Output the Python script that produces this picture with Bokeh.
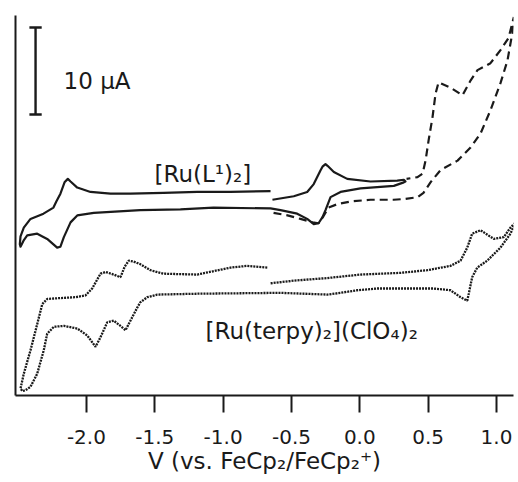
from bokeh.plotting import figure
from bokeh.models import Range1d, FixedTicker, NumeralTickFormatter
from bokeh.core.properties import value
from bokeh.embed import file_html
from bokeh.resources import INLINE

# ---- data: potential (V vs FeCp2/FeCp2+) and current (uA, arbitrary offset) ----
solid_v = [-0.653, -0.946, -1.189, -1.436, -1.678, -1.824, -1.970, -2.067, -2.116, -2.136,
           -2.160, -2.190, -2.220, -2.241, -2.314, -2.409, -2.458, -2.482, -2.487, -2.482,
           -2.460, -2.433, -2.360, -2.287, -2.214, -2.190, -2.165, -2.116, -2.067, -1.946,
           -1.606, -1.312, -1.070, -0.653, -0.580, -0.458, -0.385, -0.337, -0.302, -0.273,
           -0.251, -0.214, -0.141, 0.005, 0.249, 0.322, 0.334, 0.322, 0.274, 0.078,
           -0.092, -0.190, -0.236, -0.251, -0.273, -0.287, -0.337, -0.385, -0.483, -0.639]
solid_i = [23.5, 23.4, 23.4, 23.3, 23.2, 23.2, 23.4, 23.9, 24.6, 24.9,
           24.5, 23.2, 22.3, 21.6, 20.9, 20.3, 19.3, 18.3, 17.4, 17.1,
           17.8, 18.4, 18.6, 18.0, 17.0, 17.1, 18.2, 19.9, 20.7, 21.0,
           21.3, 21.4, 21.6, 21.5, 21.3, 20.9, 20.3, 19.7, 19.8, 20.5,
           21.3, 22.8, 23.4, 23.8, 24.1, 24.5, 24.6, 24.8, 24.7, 24.6,
           24.9, 25.7, 26.4, 26.6, 26.3, 25.9, 24.3, 23.4, 22.9, 22.5]

dashed_v = [-0.631, -0.529, -0.434, -0.346, -0.302, -0.266, -0.229, -0.163, -0.068, 0.078,
            0.247, 0.334, 0.422, 0.466, 0.517, 0.590, 0.715, 0.810, 0.883, 0.956,
            1.029, 1.080, 1.115, 1.127, 1.088, 1.029, 0.956, 0.861, 0.810, 0.751,
            0.663, 0.576, 0.554, 0.532, 0.503, 0.481, 0.459, 0.422, 0.342]
dashed_i = [21.0, 20.7, 20.3, 19.9, 19.8, 20.6, 21.6, 22.0, 22.3, 22.5,
            22.5, 22.6, 22.8, 23.3, 24.5, 25.9, 27.0, 28.5, 30.1, 32.8,
            35.9, 38.5, 41.6, 43.5, 41.1, 39.7, 38.2, 37.4, 36.2, 34.5,
            35.4, 36.0, 34.7, 32.0, 29.3, 27.0, 25.5, 25.1, 24.9]

dotted_v = [-0.677, -0.824, -0.946, -1.068, -1.189, -1.434, -1.531, -1.606, -1.656, -1.690,
            -1.720, -1.751, -1.800, -1.860, -1.897, -1.958, -2.007, -2.080, -2.190, -2.287,
            -2.323, -2.360, -2.409, -2.458, -2.482, -2.468, -2.446, -2.409, -2.360, -2.312,
            -2.287, -2.238, -2.165, -2.067, -1.994, -1.933, -1.897, -1.848, -1.800, -1.751,
            -1.714, -1.678, -1.628, -1.606, -1.555, -1.482, -1.189, -0.580, -0.238, -0.141,
            -0.019, 0.127, 0.541, 0.663, 0.737, 0.786, 0.797, 0.822, 0.859, 0.932,
            1.029, 1.102, 1.139, 1.102, 1.053, 0.980, 0.883, 0.822, 0.786, 0.737,
            0.663, 0.493, 0.298, 0.005, -0.238, -0.483, -0.653]
dotted_i = [14.7, 14.9, 14.7, 14.3, 13.9, 14.0, 14.4, 15.1, 15.4, 15.5,
            14.8, 13.6, 13.9, 14.2, 14.0, 12.3, 11.5, 11.3, 11.2, 11.1,
            10.5, 8.2, 5.2, 2.5, 0.8, 0.5, 0.6, 1.0, 2.5, 5.2,
            7.1, 7.9, 8.0, 7.7, 6.9, 5.6, 6.7, 8.4, 8.6, 8.0,
            7.5, 8.6, 10.1, 10.7, 11.3, 11.6, 11.7, 11.8, 11.6, 11.8,
            12.1, 12.3, 12.3, 12.1, 11.3, 10.9, 11.7, 13.6, 14.7, 15.5,
            17.0, 18.6, 19.9, 19.3, 18.2, 18.0, 19.0, 18.6, 17.0, 15.5,
            14.9, 14.4, 14.1, 13.9, 13.5, 13.2, 12.9]

x_ticks = [-2.0, -1.5, -1.0, -0.5, 0.0, 0.5, 1.0]
x_label = "V (vs. FeCp₂/FeCp₂⁺)"

label_texts = ["10 μA", "[Ru(L¹)₂]", "[Ru(terpy)₂](ClO₄)₂"]
label_v = [-2.167, -1.502, -1.129]
label_i = [36.1, 25.5, 7.4]

scale_v = -2.372
scale_i0 = 32.3
scale_len = 10.0
cap_half = 0.045

INK = "#1a1a1a"
FONT = "DejaVu Sans"

p = figure(width=516, height=480, output_backend="svg", toolbar_location=None,
           x_range=Range1d(-2.5187, 1.1243), y_range=Range1d(0, 43.68),
           min_border_left=15, min_border_right=3, min_border_top=15, min_border_bottom=85)
p.grid.visible = False
p.outline_line_color = None
p.background_fill_color = "white"
p.border_fill_color = "white"

xa = p.xaxis[0]
xa.ticker = FixedTicker(ticks=x_ticks)
xa.formatter = NumeralTickFormatter(format="0.0")
xa.axis_line_width = 2
xa.axis_line_color = INK
xa.major_tick_line_width = 2
xa.major_tick_line_color = INK
xa.major_tick_out = 17
xa.major_tick_in = 0
xa.minor_tick_out = 0
xa.minor_tick_in = 0
xa.major_label_text_font = FONT
xa.major_label_text_font_size = "20px"
xa.major_label_text_color = INK
xa.major_label_standoff = 17
xa.axis_label = x_label
xa.axis_label_text_font = FONT
xa.axis_label_text_font_size = "23px"
xa.axis_label_text_font_style = "normal"
xa.axis_label_text_color = INK
xa.axis_label_standoff = 1

ya = p.yaxis[0]
ya.ticker = FixedTicker(ticks=[])
ya.major_label_text_font_size = "0px"
ya.major_label_standoff = 0
ya.major_tick_out = 0
ya.major_tick_in = 0
ya.minor_tick_out = 0
ya.minor_tick_in = 0
ya.axis_line_width = 2
ya.axis_line_color = INK

p.line(solid_v, solid_i, line_color=INK, line_width=2.2, line_join="round")
p.line(dashed_v, dashed_i, line_color=INK, line_width=2.2, line_dash="8 5")
p.line(dotted_v, dotted_i, line_color=INK, line_width=2.3, line_dash="2 1")

# scale bar (10 uA)
p.segment(x0=[scale_v], y0=[scale_i0], x1=[scale_v], y1=[scale_i0 + scale_len],
          line_color=INK, line_width=2.4)
p.segment(x0=[scale_v - cap_half, scale_v - cap_half], y0=[scale_i0, scale_i0 + scale_len],
          x1=[scale_v + cap_half, scale_v + cap_half], y1=[scale_i0, scale_i0 + scale_len],
          line_color=INK, line_width=2.4)

p.text(x=label_v[:1], y=label_i[:1], text=label_texts[:1], text_font=value(FONT),
       text_font_size=value("23px"), text_color=INK, text_align="left",
       text_baseline="alphabetic")
p.text(x=label_v[1:], y=label_i[1:], text=label_texts[1:], text_font=value(FONT),
       text_font_size=value("23px"), text_color=INK, text_align="left",
       text_baseline="alphabetic")

open("out.html", "w").write(file_html(p, INLINE))
